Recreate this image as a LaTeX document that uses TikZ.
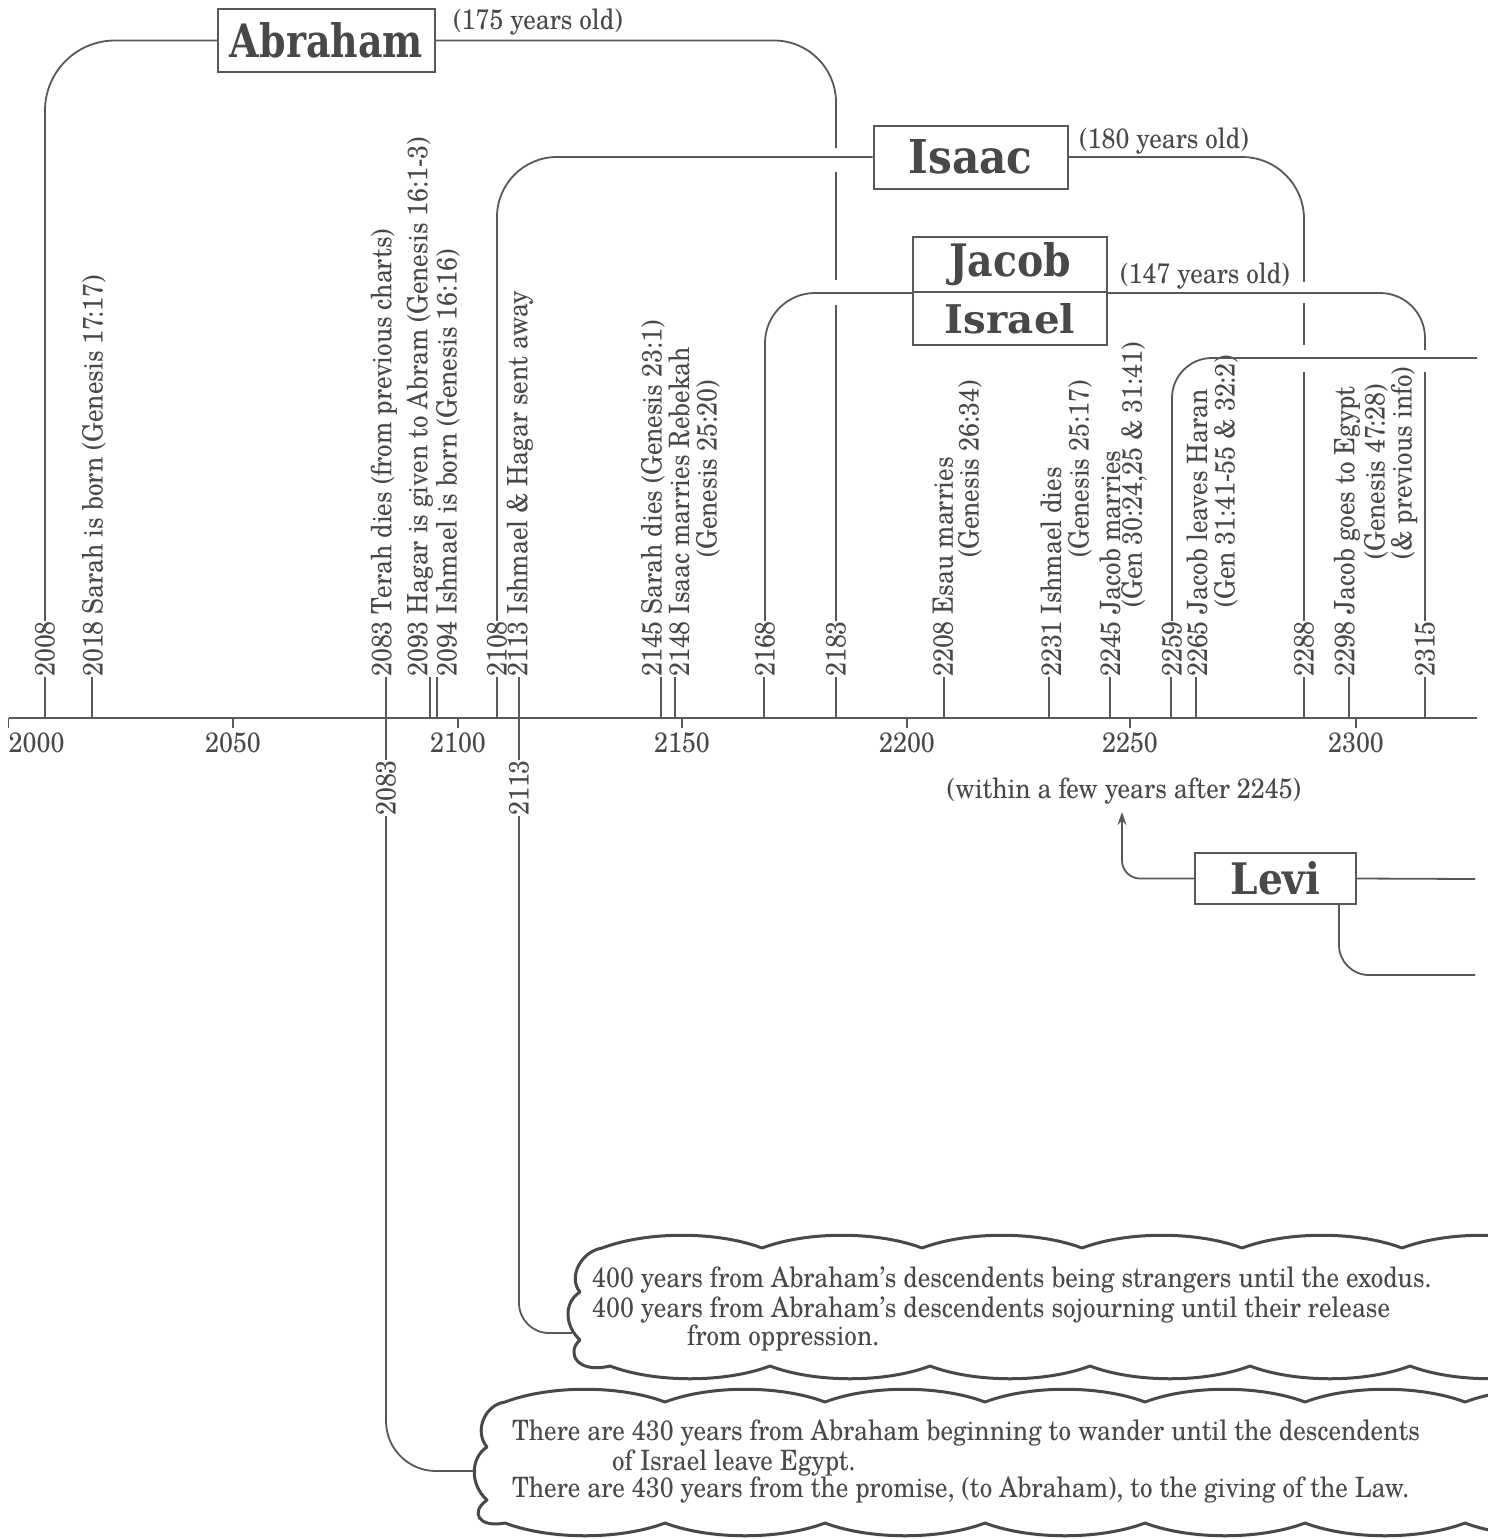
\documentclass[tikz,border=0pt]{standalone}
\usepackage{fontspec}
\usepackage{graphicx}
\usetikzlibrary{arrows.meta}
\newfontfamily\tlf{texgyreschola-regular.otf}[FakeStretch=0.895]
\newfontfamily\nmf{DejaVu Serif}
\definecolor{ink}{RGB}{72,72,72}
\definecolor{lnc}{RGB}{88,88,88}
\newcommand{\nmbox}[3]{\resizebox{#1pt}{#2pt}{\nmf\bfseries #3}}
\begin{document}
\begin{tikzpicture}[x=1pt,y=-1pt,
  ln/.style={draw=lnc,line width=1.8pt},
  vlab/.style={rotate=90,anchor=west,inner sep=0pt,text=ink,font=\tlf\fontsize{28}{28}\selectfont},
  hlab/.style={inner sep=0pt,text=ink,font=\tlf\fontsize{28}{28}\selectfont},
  namebox/.style={draw=lnc,line width=2pt,fill=white,inner sep=0pt,text=ink},
  cloud/.style={draw=ink,line width=3pt,line join=round,line cap=round}]
\useasboundingbox (0,0) rectangle (1488,1539);
\fill[white] (0,0) rectangle (1488,1539);

% axis
\coordinate (ax0) at (8.5,718);
\coordinate (ax1) at (1477,718);
\draw[ln,line width=2.2pt] (ax0) -- (ax1);
\foreach \yr/\x in {2000/8.5,2050/233,2100/458,2150/682,2200/907,2250/1130,2300/1356}{
  \coordinate (t\yr) at (\x,718);
  \draw[ln,line width=1.2pt] (t\yr) -- ++(0,10);
}
\node[hlab,anchor=base west] (y2000) at (8.5,752) {2000};
\foreach \yr/\x in {2050/233,2100/458,2150/682,2200/907,2250/1130,2300/1356}{
  \node[hlab,anchor=base] (y\yr) at (\x,752) {\yr};
}

% events above the axis
\foreach \n/\lx/\tx/\t in {
 2008/45/45/{2008},
 2018/92/94/{2018 Sarah is born (Genesis 17:17)},
 2083/386/384/{2083 Terah dies (from previous charts)},
 2093/430/420/{2093 Hagar is given to Abram (Genesis 16:1-3)},
 2094/437/448/{2094 Ishmael is born (Genesis 16:16)},
 2108/497/497/{2108},
 2113/519/520/{2113 Ishmael \& Hagar sent away},
 2145/661/653/{2145 Sarah dies (Genesis 23:1)},
 2148/675/679/{2148 Isaac marries Rebekah},
 2168/764/765/{2168},
 2183/836/836/{2183},
 2208/944/943/{2208 Esau marries},
 2231/1049/1051/{2231 Ishmael dies},
 2245/1110/1110/{2245 Jacob marries},
 2259/1171/1172/{2259},
 2265/1196/1197/{2265 Jacob leaves Haran},
 2288/1304/1304/{2288},
 2298/1349/1347/{2298 Jacob goes to Egypt},
 2315/1425/1425/{2315}}{
  \coordinate (a\n) at (\lx,718);
  \node[vlab] (l\n) at (\tx,677) {\t};
  \draw[ln] (a\n) -- (a\n |- l\n.west);
}
\foreach \n/\tx/\ty/\t in {
 g2520/708/558/{(Genesis 25:20)},
 g2634/970/558/{(Genesis 26:34)},
 g2517/1080/558/{(Genesis 25:17)},
 g3024/1134/608/{(Gen 30:24,25 \& 31:41)},
 g3141/1226/608/{(Gen 31:41-55 \& 32:2)},
 g4728/1376/560/{(Genesis 47:28)},
 gprev/1404/560/{(\& previous info)}}{
  \node[vlab] (\n) at (\tx,\ty) {\t};
}

% name boxes
\node[namebox,minimum width=217pt,minimum height=63pt] (abr) at (326.5,40.5) {\nmbox{193}{35}{Abraham}};
\node[namebox,minimum width=194pt,minimum height=63pt] (isa) at (970.6,157) {\nmbox{124}{34}{Isaac}};
\node[namebox,minimum width=194pt,minimum height=55pt] (jac) at (1010,264.5) {\nmbox{122}{34}{Jacob}};
\node[namebox,minimum width=194pt,minimum height=53pt] (isr) at (1010,318.5) {\nmbox{130}{30}{Israel}};
\node[namebox,minimum width=161pt,minimum height=51pt] (lev) at (1275.5,878.5) {\nmbox{90}{33}{Levi}};

\node[hlab] (age1) at (538,22) {(175 years old)};
\node[hlab] (age2) at (1164,141) {(180 years old)};
\node[hlab] (age3) at (1205,276) {(147 years old)};
\node[hlab] (within) at (1124,791) {(within a few years after 2245)};

% life spans
\draw[ln,rounded corners=70pt] (l2008.east) |- (abr.west);
\draw[ln,rounded corners=62pt] (abr.east) -| (836,148);
\draw[ln] (836,172) -- (836,280);
\draw[ln] (836,305) -- (l2183.east);
\draw[ln,rounded corners=60pt] (l2108.east) |- (isa.west);
\draw[ln,rounded corners=62pt] (isa.east) -| (1304,282);
\draw[ln] (1304,303) -- (1304,345);
\draw[ln] (1304,372) -- (l2288.east);
\draw[ln,rounded corners=50pt] (l2168.east) |- (jac.south west);
\draw[ln,rounded corners=45pt] (jac.south east) -| (1425,350);
\draw[ln] (1425,372) -- (l2315.east);
\coordinate (r2259) at (1477,358);
\draw[ln,rounded corners=40pt] (l2259.east) |- (r2259);

% Levi
\coordinate (levR) at (1475,879);
\draw[ln] (lev.east) -- (levR);
\coordinate (wtip) at (1122,812);
\draw[ln,rounded corners=18pt,-{Stealth[length=13pt,width=9pt]}] (lev.west) -| (wtip);
\coordinate (levB) at (1475,975);
\draw[ln,rounded corners=30pt] ([xshift=-18pt]lev.south east) |- (levB);

% below the axis
\node[vlab] (b2083) at (386,816) {2083};
\node[vlab] (b2113) at (519,816) {2113};
\draw[ln] (a2083) -- (b2083.east);
\draw[ln] (a2113) -- (b2113.east);
\coordinate (c2in) at (476,1471);
\coordinate (c1in) at (572,1333);
\draw[ln,rounded corners=50pt] (b2083.west) |- (c2in);
\draw[ln,rounded corners=30pt] (b2113.west) |- (c1in);

% clouds
\draw[cloud] (602,1248)
  \foreach \i in {1,...,6}{ .. controls +(45,-17) and +(-45,-17) .. ++(160,0) }
  -- (1570,1366)
  \foreach \i in {1,...,6}{ .. controls +(-45,17) and +(45,17) .. ++(-160,0) }
  .. controls (576,1374) and (566,1352) .. (580,1340)
  .. controls (564,1325) and (564,1302) .. (580,1292)
  .. controls (568,1278) and (580,1252) .. (602,1248);
\draw[cloud] (505,1402)
  \foreach \i in {1,...,7}{ .. controls +(45,-17) and +(-45,-17) .. ++(160,0) }
  -- (1625,1523)
  \foreach \i in {1,...,7}{ .. controls +(-45,17) and +(45,17) .. ++(-160,0) }
  .. controls (478,1528) and (470,1512) .. (487,1500)
  .. controls (470,1485) and (470,1458) .. (487,1447)
  .. controls (474,1432) and (484,1405) .. (505,1402);

\node[hlab,anchor=base west] (c1a) at (592,1287) {400 years from Abraham’s descendents being strangers until the exodus.};
\node[hlab,anchor=base west] (c1b) at (592,1317) {400 years from Abraham’s descendents sojourning until their release};
\node[hlab,anchor=base west] (c1c) at (687,1345) {from oppression.};
\node[hlab,anchor=base west] (c2a) at (512,1440) {There are 430 years from Abraham beginning to wander until the descendents};
\node[hlab,anchor=base west] (c2b) at (612,1470) {of Israel leave Egypt.};
\node[hlab,anchor=base west] (c2c) at (512,1497) {There are 430 years from the promise, (to Abraham), to the giving of the Law.};
\end{tikzpicture}
\end{document}
